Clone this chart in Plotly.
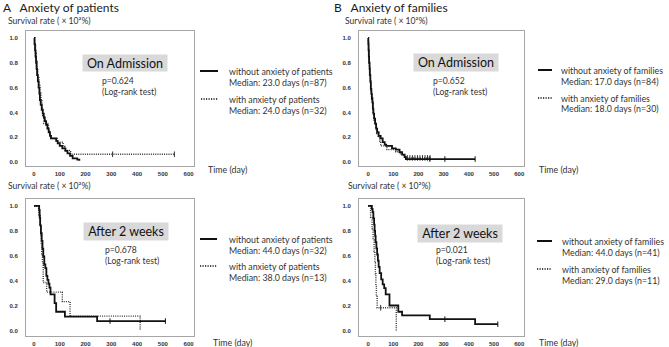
import plotly.graph_objects as go

W, H = 669, 347

# ---------------- data (time in days, survival proportion) ----------------
# A: Anxiety of patients - On Admission
a_adm_without_t = [0, 2, 4, 6, 8, 10, 12, 15, 18, 21, 23, 26, 30, 34, 38, 42, 47, 52, 57, 62, 66, 86, 92, 100, 110, 122, 130, 140, 150, 168, 176]
a_adm_without_s = [1.0, 0.95, 0.90, 0.85, 0.80, 0.75, 0.70, 0.65, 0.60, 0.55, 0.50, 0.46, 0.42, 0.39, 0.36, 0.33, 0.30, 0.27, 0.24, 0.21, 0.19, 0.17, 0.15, 0.13, 0.11, 0.09, 0.07, 0.05, 0.03, 0.02, 0.01]
a_adm_without_cens = []
a_adm_with_t = [0, 3, 6, 9, 12, 15, 19, 23, 27, 31, 34, 38, 56, 62, 66, 90, 113, 120, 142, 545]
a_adm_with_s = [1.0, 0.94, 0.875, 0.81, 0.75, 0.69, 0.625, 0.56, 0.50, 0.44, 0.375, 0.31, 0.25, 0.22, 0.19, 0.16, 0.125, 0.094, 0.0625, 0.0625]
a_adm_with_cens = [305, 545]

# A: Anxiety of patients - After 2 weeks
a_2w_without_t = [0, 20, 22, 24, 27, 30, 33, 36, 40, 44, 48, 52, 56, 60, 64, 80, 86, 120, 245, 510]
a_2w_without_s = [1.0, 0.969, 0.906, 0.844, 0.781, 0.719, 0.656, 0.594, 0.531, 0.50, 0.438, 0.406, 0.375, 0.344, 0.29, 0.22, 0.15, 0.11, 0.075, 0.075]
a_2w_without_cens = [295, 510]
a_2w_with_t = [0, 18, 24, 26, 28, 30, 33, 36, 49, 110, 140, 412]
a_2w_with_s = [1.0, 0.923, 0.846, 0.769, 0.692, 0.615, 0.538, 0.385, 0.308, 0.231, 0.115, 0.0]
a_2w_with_cens = []

# B: Anxiety of families - On Admission
b_adm_without_t = [0, 1, 2, 3, 4, 6, 7, 9, 11, 13, 15, 17, 19, 21, 24, 28, 32, 36, 42, 50, 58, 66, 72, 95, 110, 125, 135, 145, 150, 425]
b_adm_without_s = [1.0, 0.95, 0.90, 0.85, 0.80, 0.75, 0.70, 0.65, 0.59, 0.55, 0.51, 0.48, 0.43, 0.39, 0.35, 0.31, 0.27, 0.24, 0.21, 0.19, 0.16, 0.14, 0.13, 0.11, 0.10, 0.08, 0.06, 0.04, 0.024, 0.024]
b_adm_without_cens = [245, 305, 425]
b_adm_with_t = [0, 1, 2, 4, 5, 7, 9, 11, 14, 18, 20, 24, 28, 31, 34, 40, 46, 50, 75, 110, 125, 140, 150, 246]
b_adm_with_s = [1.0, 0.967, 0.90, 0.83, 0.77, 0.70, 0.63, 0.57, 0.53, 0.47, 0.40, 0.33, 0.30, 0.27, 0.23, 0.20, 0.17, 0.13, 0.10, 0.083, 0.067, 0.05, 0.033, 0.033]
b_adm_with_cens = [156, 166, 176, 186, 196, 206, 216, 226, 236, 246]

# B: Anxiety of families - After 2 weeks
b_2w_without_t = [0, 15, 18, 21, 24, 26, 28, 30, 33, 36, 39, 42, 46, 52, 58, 64, 70, 85, 120, 135, 245, 425, 515]
b_2w_without_s = [1.0, 0.976, 0.95, 0.90, 0.85, 0.80, 0.76, 0.71, 0.66, 0.61, 0.56, 0.51, 0.46, 0.41, 0.37, 0.34, 0.29, 0.20, 0.15, 0.12, 0.09, 0.05, 0.05]
b_2w_without_cens = [305, 515]
b_2w_with_t = [0, 10, 16, 20, 24, 27, 29, 31, 33, 36, 112]
b_2w_with_s = [1.0, 0.909, 0.818, 0.727, 0.636, 0.545, 0.455, 0.364, 0.273, 0.182, 0.0]
b_2w_with_cens = [50]

x_ticks = [0, 100, 200, 300, 400, 500, 600]
y_ticks = [0.0, 0.2, 0.4, 0.6, 0.8, 1.0]
y_ticktext = ["0.0", "0.2", "0.4", "0.6", "0.8", "1.0"]

panels = [
    dict(ax="", wo=(a_adm_without_t, a_adm_without_s, a_adm_without_cens),
         wi=(a_adm_with_t, a_adm_with_s, a_adm_with_cens)),
    dict(ax="2", wo=(b_adm_without_t, b_adm_without_s, b_adm_without_cens),
         wi=(b_adm_with_t, b_adm_with_s, b_adm_with_cens)),
    dict(ax="3", wo=(a_2w_without_t, a_2w_without_s, a_2w_without_cens),
         wi=(a_2w_with_t, a_2w_with_s, a_2w_with_cens)),
    dict(ax="4", wo=(b_2w_without_t, b_2w_without_s, b_2w_without_cens),
         wi=(b_2w_with_t, b_2w_with_s, b_2w_with_cens)),
]


def surv_at(ts, ss, t):
    v = ss[0]
    for ti, si in zip(ts, ss):
        if ti <= t:
            v = si
    return v


fig = go.Figure()
for p in panels:
    xa = "x" + p["ax"]
    ya = "y" + p["ax"]
    for key, dash, col, wid in (("wi", "1px,1.2px", "#333333", 1.4), ("wo", "solid", "#111111", 1.8)):
        ts, ss, cs = p[key]
        fig.add_trace(go.Scatter(x=ts, y=ss, mode="lines", line_shape="hv",
                                 line=dict(color=col, width=wid, dash=dash),
                                 xaxis=xa, yaxis=ya, showlegend=False, hoverinfo="skip"))
        if cs:
            fig.add_trace(go.Scatter(x=cs, y=[surv_at(ts, ss, c) for c in cs], mode="markers",
                                     marker=dict(symbol="line-ns", size=4,
                                                 line=dict(color=col, width=1)),
                                     xaxis=xa, yaxis=ya, showlegend=False, hoverinfo="skip"))


def X(px):
    return px / W


def Y(py):
    return 1 - py / H


tick_font = dict(family="Liberation Sans", size=6, color="#333333", weight="bold")
axis_common = dict(showline=True, mirror=True, linecolor="#a6a6a6", linewidth=1,
                   showgrid=False, zeroline=False, ticks="outside",
                   tickcolor="rgba(0,0,0,0)", tickfont=tick_font, fixedrange=True)

xA = [X(26), X(194)]
xB = [X(359), X(524)]
yTop = [Y(166), Y(31)]
yBot = [Y(336), Y(199)]
rA = [-31, 621]
rB = [-36, 619]
rTop = [-0.032, 1.056]
rBot = [-0.045, 1.056]

layout = dict(width=W, height=H, margin=dict(l=0, r=0, t=0, b=0),
              paper_bgcolor="white", plot_bgcolor="white", showlegend=False)
for suf, xd, xr, yd, yr in (("", xA, rA, yTop, rTop), ("2", xB, rB, yTop, rTop),
                            ("3", xA, rA, yBot, rBot), ("4", xB, rB, yBot, rBot)):
    layout["xaxis" + suf] = dict(axis_common, domain=xd, range=xr, tickvals=x_ticks,
                                 ticklen=2, anchor="y" + suf)
    layout["yaxis" + suf] = dict(axis_common, domain=yd, range=yr, tickvals=y_ticks,
                                 ticktext=y_ticktext, ticklen=6, anchor="x" + suf)
fig.update_layout(**layout)

TXT = "Lato"
ann = []


def text(px, py, s, size, xanchor="left", color="#1a1a1a", **kw):
    ann.append(dict(x=X(px), y=Y(py), xref="paper", yref="paper", text=s, showarrow=False,
                    xanchor=xanchor, yanchor="middle", font=dict(family=TXT, size=size, color=color),
                    **kw))


# titles
text(1, 7, "A&nbsp;&nbsp; Anxiety of patients", 12)
text(332, 7, "B&nbsp;&nbsp; Anxiety of families", 12)
# y labels
for (px, py) in ((6, 21), (343, 21), (6, 186), (346, 186)):
    text(px, py, "Survival rate ( × 10²%)", 8.6, color="#333333")
# x labels
for (px, py) in ((206, 170), (211, 342), (537, 170), (537, 342)):
    text(px, py, "Time (day)", 8.8, color="#333333")

# condition boxes
for (cx, cy, w, h, s) in ((125, 63, 84, 16, "On Admission"), (456, 63, 84, 17, "On Admission"),
                          (125.5, 231.5, 84, 17, "After 2 weeks"), (459.5, 233, 84, 17, "After 2 weeks")):
    ann.append(dict(x=X(cx), y=Y(cy), xref="paper", yref="paper", text=s, showarrow=False,
                    xanchor="center", yanchor="middle", width=w, height=h, bgcolor="#d9d9d9",
                    borderpad=0, font=dict(family=TXT, size=12.5, color="#111111")))

# p-values
for (px, py, s) in ((100, 81, "p=0.624"), (431, 81, "p=0.652"), (103, 250, "p=0.678"), (434, 250, "p=0.021")):
    text(px, py, s, 8.6, color="#333333")
    text(px, py + 11, "(Log-rank test)", 8.6, color="#333333")

# legends
legend_rows = [
    (200, 218, 227, 71, 82, "without anxiety of patients", "Median: 23.0 days (n=87)", "solid"),
    (201, 218, 227, 99, 110, "with anxiety of patients", "Median: 24.0 days (n=32)", "dot"),
    (200, 217, 227, 239, 250, "without anxiety of patients", "Median: 44.0 days (n=32)", "solid"),
    (200, 217, 227, 266, 277, "with anxiety of patients", "Median: 38.0 days (n=13)", "dot"),
    (538, 552, 559, 70, 81, "without anxiety of families", "Median: 17.0 days (n=84)", "solid"),
    (538, 552, 559, 98, 109, "with anxiety of families", "Median: 18.0 days (n=30)", "dot"),
    (537, 552, 560, 241, 252, "without anxiety of families", "Median: 44.0 days (n=41)", "solid"),
    (537, 552, 560, 269, 280, "with anxiety of families", "Median: 29.0 days (n=11)", "dot"),
]
shapes = []
for (x0, x1, tx, y1, y2, l1, l2, dash) in legend_rows:
    shapes.append(dict(type="line", xref="paper", yref="paper", x0=X(x0), x1=X(x1), y0=Y(y1), y1=Y(y1),
                       line=dict(color="#111111", width=2 if dash == "solid" else 1.4,
                                 dash="solid" if dash == "solid" else "1.2px,1.3px")))
    text(tx, y1, l1, 8.8, color="#333333")
    text(tx, y2, l2, 8.8, color="#333333")

fig.update_layout(annotations=ann, shapes=shapes)
fig.write_html("out.html", config={"displayModeBar": False, "staticPlot": True},
               post_script="document.body.style.margin='0';document.body.style.overflow='hidden';")
